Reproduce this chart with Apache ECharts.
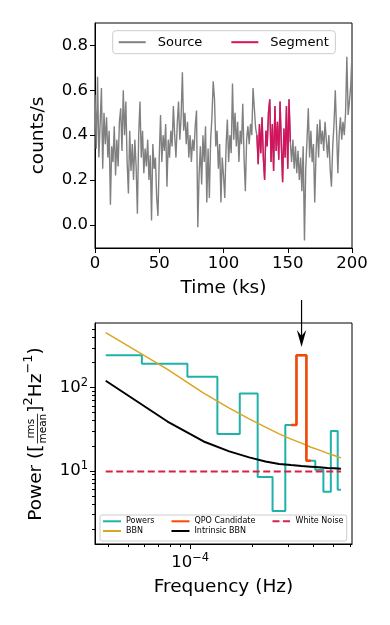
<!DOCTYPE html>
<html>
<head>
<meta charset="utf-8">
<script src="https://cdn.jsdelivr.net/npm/echarts@6/dist/echarts.min.js"></script>
<style>
html, body { margin: 0; padding: 0; background: #fff; }
#main { width: 390px; height: 625px; }
</style>
</head>
<body>
<div id="main"></div>
<script>
// light curve (counts/s), one bin per ks
var dt = 1;
var rate = [
  0.58, 0.34, 0.66, 0.30, 0.45, 0.61, 0.25, 0.50, 0.36, 0.48,
  0.30, 0.42, 0.09, 0.35, 0.28, 0.44, 0.22, 0.38, 0.26, 0.46,
  0.52, 0.33, 0.60, 0.40, 0.55, 0.28, 0.14, 0.42, 0.24, 0.36,
  0.20, 0.38, 0.26, 0.05, 0.40, 0.55, 0.30, 0.42, 0.23, 0.34,
  0.26, 0.38, 0.20, 0.31, 0.02, 0.36, 0.25, 0.30, 0.12, 0.04,
  0.30, 0.49, 0.28, 0.40, 0.33, 0.45, 0.17, 0.38, 0.30, 0.42,
  0.35, 0.53, 0.40, 0.30, 0.45, 0.55, 0.38, 0.48, 0.68, 0.42,
  0.50, 0.36, 0.46, 0.30, 0.40, 0.28, 0.38, 0.33, 0.44, 0.51,
  -0.01, 0.22, 0.35, 0.18, 0.40, 0.28, 0.44, 0.10, 0.34, 0.12,
  0.38, 0.48, 0.64, 0.56, 0.35, 0.42, 0.25, 0.36, 0.10, 0.30,
  0.22, 0.12, 0.35, 0.47, 0.28, 0.40, 0.32, 0.63, 0.38, 0.50,
  0.35, 0.46, 0.28, 0.42, 0.36, 0.54, 0.30, 0.15, 0.38, 0.44,
  0.36, 0.45, 0.40, 0.61, 0.52, 0.43, 0.40, 0.27, 0.45, 0.32,
  0.48, 0.30, 0.20, 0.42, 0.35, 0.50, 0.56, 0.28, 0.45, 0.24,
  0.53, 0.33, 0.46, 0.29, 0.55, 0.36, 0.19, 0.43, 0.30, 0.53,
  0.25, 0.56, 0.37, 0.28, 0.38, 0.25, 0.35, 0.23, 0.33, 0.20,
  0.30, 0.15, 0.35, -0.07, 0.25, 0.38, 0.52, 0.30, 0.42, 0.28,
  0.36, 0.10, 0.32, 0.45, 0.30, 0.47, 0.36, 0.42, 0.33, 0.46,
  0.38, 0.30, 0.40, 0.25, 0.17, 0.35, 0.45, 0.60, 0.42, 0.23,
  0.40, 0.48, 0.38, 0.46, 0.40, 0.50, 0.75, 0.49, 0.55, 0.62, 0.76
];
var segStart = 126, segEnd = 152;   // bin indices of the segment

var rateTicks = [0, 0.2, 0.4, 0.6, 0.8];

// power spectrum of the segment
var freq = [3.88e-5, 7.76e-5, 1.164e-4, 1.552e-4, 1.94e-4, 2.328e-4, 2.716e-4,
            3.104e-4, 3.492e-4, 3.88e-4, 4.268e-4, 4.656e-4, 5.044e-4, 5.432e-4];
var power = [245, 194, 135, 27.6, 84.7, 8.4, 3.28, 35.4, 245, 13.2, 10.3, 5.6, 30.0, 5.9];
var bbn = [457, 166, 85.8, 56.6, 42.1, 33.5, 27.8, 24.0, 21.5, 19.2, 17.7, 16.3, 15.3, 14.3];
var intrinsic = [121, 39.1, 22.5, 17.1, 14.5, 12.9, 12.1, 11.7, 11.4, 11.2, 11.0, 10.8, 10.7, 10.6];
var whiteNoise = 9.8;
var qpoIndex = 8;

var freqMajor = [1e-4];
var freqMinor = [4e-5, 5e-5, 6e-5, 7e-5, 8e-5, 9e-5, 2e-4, 3e-4, 4e-4, 5e-4, 6e-4];
var powMajor = [10, 100];
var powMinor = [2, 3, 4, 5, 6, 7, 8, 9, 20, 30, 40, 50, 60, 70, 80, 90, 200, 300, 400, 500];

var FONT = 'DejaVu Sans';

// matplotlib steps-mid
function steps(f, p) {
  var out = [[f[0], p[0]]];
  for (var i = 1; i < f.length; i++) {
    var m = (f[i - 1] + f[i]) / 2;
    out.push([m, p[i - 1]], [m, p[i]]);
  }
  out.push([f[f.length - 1], p[p.length - 1]]);
  return out;
}

var lcData = rate.map(function (v, i) { return [i * dt, v]; });
var segData = lcData.slice(segStart, segEnd + 1);
var wnData = freq.map(function (f) { return [f, whiteNoise]; });
var bbnData = freq.map(function (f, i) { return [f, bbn[i]]; });
var intData = freq.map(function (f, i) { return [f, intrinsic[i]]; });
var qpoData = steps(freq.slice(qpoIndex - 1, qpoIndex + 2), power.slice(qpoIndex - 1, qpoIndex + 2));

var supRich = { sup: { fontSize: 11.5, fontFamily: FONT, color: '#000', padding: [0, 0, 9, 0] } };
var smallLegend = {
  orient: 'vertical', top: 517.3, padding: 0, itemWidth: 18, itemHeight: 10, itemGap: 1.7,
  itemStyle: { opacity: 0 },
  textStyle: { fontSize: 8, fontFamily: FONT, color: '#000' }
};

var chart = echarts.init(document.getElementById('main'));
var option = {
  animation: false,
  backgroundColor: '#fff',
  textStyle: { fontFamily: FONT },
  grid: [
    { left: 95, top: 23, width: 257, height: 225, show: true, borderColor: '#000', borderWidth: 1 },
    { left: 95, top: 323, width: 257, height: 221, show: true, borderColor: '#000', borderWidth: 1 }
  ],
  legend: [
    {
      data: ['Source', 'Segment'], left: 112.7, top: 30.7, orient: 'horizontal',
      padding: [5, 6.5, 5, 5], itemWidth: 27, itemHeight: 13, itemGap: 28,
      itemStyle: { opacity: 0 },
      borderColor: '#ccc', borderWidth: 1, borderRadius: 3, backgroundColor: 'rgba(255,255,255,0.8)',
      textStyle: { fontSize: 13, fontFamily: FONT, color: '#000', padding: [0, 0, 0, 7] }
    },
    Object.assign({ data: ['Powers', 'BBN'], left: 102 }, smallLegend),
    Object.assign({ data: ['QPO Candidate', 'Intrinsic BBN'], left: 170.5 }, smallLegend),
    Object.assign({ data: ['White Noise'], left: 271.5 }, smallLegend)
  ],
  xAxis: [
    {
      type: 'value', gridIndex: 0, min: 0, max: 200, interval: 50,
      name: 'Time (ks)', nameLocation: 'middle', nameGap: 31,
      nameTextStyle: { fontSize: 18.5, fontFamily: FONT, color: '#000' },
      axisLine: { show: true, onZero: false, lineStyle: { color: '#000', width: 1 } },
      axisTick: { show: true, length: 5, lineStyle: { color: '#000' } },
      axisLabel: { fontSize: 16.5, color: '#000', margin: 7, fontFamily: FONT },
      splitLine: { show: false }
    },
    {
      type: 'log', gridIndex: 1, logBase: 10, min: 3.44e-5, max: 6.15e-4,
      name: 'Frequency (Hz)', nameLocation: 'middle', nameGap: 34,
      nameTextStyle: { fontSize: 18.5, fontFamily: FONT, color: '#000' },
      axisLine: { show: true, onZero: false, lineStyle: { color: '#000', width: 1 } },
      axisTick: { show: true, length: 5, customValues: freqMajor, lineStyle: { color: '#000' } },
      axisLabel: {
        customValues: freqMajor, margin: 8, fontSize: 16.5, color: '#000', fontFamily: FONT,
        formatter: function () { return '10{sup|\u22124}'; }, rich: supRich
      },
      splitLine: { show: false }, minorTick: { show: false }
    },
    {
      type: 'log', gridIndex: 1, logBase: 10, min: 3.44e-5, max: 6.15e-4, position: 'bottom',
      axisLine: { show: false, onZero: false },
      axisTick: { show: true, length: 3, customValues: freqMinor, lineStyle: { color: '#000' } },
      axisLabel: { show: false }, splitLine: { show: false }
    }
  ],
  yAxis: [
    {
      type: 'value', gridIndex: 0, min: -0.103, max: 0.9,
      name: 'counts/s', nameLocation: 'middle', nameGap: 47, nameRotate: 90,
      nameTextStyle: { fontSize: 18.5, fontFamily: FONT, color: '#000' },
      axisLine: { show: true, onZero: false, lineStyle: { color: '#000', width: 1 } },
      axisTick: { show: true, length: 5, customValues: rateTicks, lineStyle: { color: '#000' } },
      axisLabel: {
        customValues: rateTicks, fontSize: 16.5, color: '#000', margin: 7, fontFamily: FONT,
        formatter: function (v) { return Number(v).toFixed(1); }
      },
      splitLine: { show: false }
    },
    {
      type: 'log', gridIndex: 1, logBase: 10, min: 1.318, max: 598,
      axisLine: { show: true, onZero: false, lineStyle: { color: '#000', width: 1 } },
      axisTick: { show: true, length: 5, customValues: powMajor, lineStyle: { color: '#000' } },
      axisLabel: {
        customValues: powMajor, fontSize: 16.5, color: '#000', margin: 7, fontFamily: FONT,
        formatter: function (v) { return '10{sup|' + Math.round(Math.log10(v)) + '}'; }, rich: supRich
      },
      splitLine: { show: false }, minorTick: { show: false }
    },
    {
      type: 'log', gridIndex: 1, logBase: 10, min: 1.318, max: 598, position: 'left',
      axisLine: { show: false, onZero: false },
      axisTick: { show: true, length: 3, customValues: powMinor, lineStyle: { color: '#000' } },
      axisLabel: { show: false }, splitLine: { show: false }
    }
  ],
  series: [
    {
      name: 'Source', type: 'line', xAxisIndex: 0, yAxisIndex: 0, data: lcData,
      symbol: 'none', lineStyle: { color: '#808080', width: 1.4 }, itemStyle: { color: '#808080' }, z: 2
    },
    {
      name: 'Segment', type: 'line', xAxisIndex: 0, yAxisIndex: 0, data: segData,
      symbol: 'none', lineStyle: { color: '#d6125e', width: 1.4 }, itemStyle: { color: '#d6125e' }, z: 3
    },
    {
      name: 'Powers', type: 'line', xAxisIndex: 1, yAxisIndex: 1, data: steps(freq, power),
      symbol: 'none', lineStyle: { color: '#20b2aa', width: 2 }, itemStyle: { color: '#20b2aa' }, z: 2
    },
    {
      name: 'BBN', type: 'line', xAxisIndex: 1, yAxisIndex: 1, data: bbnData,
      symbol: 'none', lineStyle: { color: '#daa520', width: 1.5 }, itemStyle: { color: '#daa520' }, z: 3
    },
    {
      name: 'QPO Candidate', type: 'line', xAxisIndex: 1, yAxisIndex: 1, data: qpoData,
      symbol: 'none', lineStyle: { color: '#ff4500', width: 2.5 }, itemStyle: { color: '#ff4500' }, z: 4
    },
    {
      name: 'Intrinsic BBN', type: 'line', xAxisIndex: 1, yAxisIndex: 1, data: intData,
      symbol: 'none', lineStyle: { color: '#000', width: 2 }, itemStyle: { color: '#000' }, z: 5
    },
    {
      name: 'White Noise', type: 'line', xAxisIndex: 1, yAxisIndex: 1, data: wnData,
      symbol: 'none', lineStyle: { color: '#d62246', width: 2, type: [7, 3.5] }, itemStyle: { color: '#d62246' }, z: 6
    }
  ]
};
chart.setOption(option);

// rotated y label of the lower panel, with the rms/mean fraction
var ctx = document.createElement('canvas').getContext('2d');
function tw(s, size) { ctx.font = size + 'px "' + FONT + '"'; return ctx.measureText(s).width; }
var MAIN = 18.5, SMALL = 10.5, SUP = 13;
var parts = [
  { t: 'Power ([', size: MAIN, y: 0 },
  { frac: true },
  { t: ']', size: MAIN, y: 0 },
  { t: '2', size: SUP, y: -7 },
  { t: 'Hz', size: MAIN, y: 0 },
  { t: '\u22121', size: SUP, y: -7 },
  { t: ')', size: MAIN, y: 0 }
];
var fracW = Math.max(tw('rms', SMALL), tw('mean', SMALL)) + 2;
var total = 0;
parts.forEach(function (p) { p.w = p.frac ? fracW : tw(p.t, p.size); total += p.w; });
var children = [];
var cx = -total / 2;
parts.forEach(function (p) {
  if (p.frac) {
    children.push({ type: 'text', x: cx + p.w / 2, y: -5, style: { text: 'rms', fontSize: SMALL, fontFamily: FONT, fill: '#000', textAlign: 'center', align: 'center', textVerticalAlign: 'middle', verticalAlign: 'middle' } });
    children.push({ type: 'line', shape: { x1: cx + 1, y1: 1.5, x2: cx + p.w - 1, y2: 1.5 }, style: { stroke: '#000', lineWidth: 0.8 } });
    children.push({ type: 'text', x: cx + p.w / 2, y: 7.5, style: { text: 'mean', fontSize: SMALL, fontFamily: FONT, fill: '#000', textAlign: 'center', align: 'center', textVerticalAlign: 'middle', verticalAlign: 'middle' } });
  } else {
    children.push({ type: 'text', x: cx, y: p.y, style: { text: p.t, fontSize: p.size, fontFamily: FONT, fill: '#000', textAlign: 'left', align: 'left', textVerticalAlign: 'middle', verticalAlign: 'middle' } });
  }
  cx += p.w;
});

// arrow pointing at the QPO candidate
var ax = chart.convertToPixel({ xAxisIndex: 1 }, freq[qpoIndex]);
var tipY = 347;

chart.setOption({
  graphic: [
    { type: 'group', x: 36, y: 434, rotation: Math.PI / 2, children: children },
    { type: 'line', z: 10, shape: { x1: ax, y1: 300, x2: ax, y2: tipY - 8 }, style: { stroke: '#000', lineWidth: 1.2 } },
    { type: 'polygon', z: 10, shape: { points: [[ax - 4.7, tipY - 17], [ax, tipY], [ax + 4.7, tipY - 17], [ax, tipY - 11]] }, style: { fill: '#000' } },
    { type: 'rect', z: 3, shape: { x: 100, y: 515, width: 246.7, height: 26, r: 2 }, style: { fill: 'rgba(255,255,255,0.8)', stroke: '#ccc', lineWidth: 1 } }
  ]
});
</script>
</body>
</html>
